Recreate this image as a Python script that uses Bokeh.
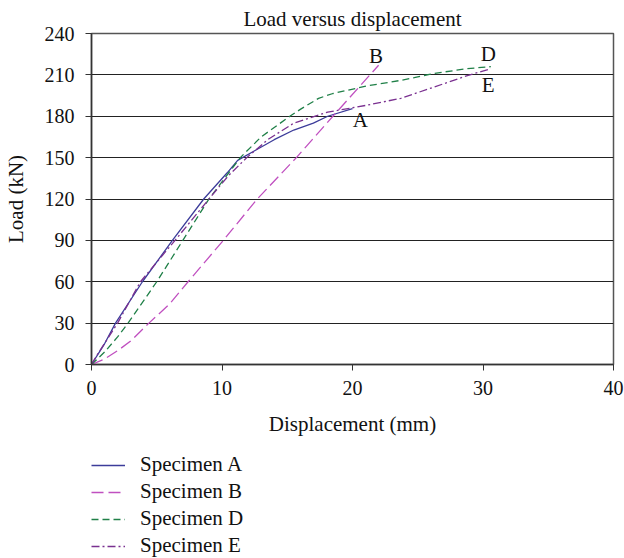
from bokeh.plotting import figure
from bokeh.layouts import column
from bokeh.models import Range1d, Legend, LegendItem, FixedTicker, ColumnDataSource
from bokeh.core.properties import value
from bokeh.embed import file_html
from bokeh.resources import INLINE

FONT = "'Liberation Serif', serif"
FS = "20px"
FS_L = "21px"

title_text = "Load versus displacement"
x_label = "Displacement (mm)"
y_label = "Load (kN)"
x_ticks = [0, 10, 20, 30, 40]
y_ticks = [0, 30, 60, 90, 120, 150, 180, 210, 240]

a_x = [0, 1, 1.84, 3.9, 6.2, 8.6, 10.4, 11.2, 12.5, 14, 15.5, 17, 18.1, 20]
a_y = [0, 15, 30, 60, 90, 120, 139, 148, 155, 163, 170, 175, 180, 185.6]

b_x = [0, 1, 2, 3, 4.4, 6, 7.4, 10.1, 12.7, 15.7, 18.5, 22]
b_y = [0, 4, 10, 17, 30, 44, 60, 90, 120, 150, 180, 217]

d_x = [0, 1, 2, 2.8, 5, 7, 9, 11.4, 13, 15.2, 16, 17.4, 18.5, 21.1, 23.7, 26.2, 28.8, 30.6]
d_y = [0, 9, 20, 30, 60, 90, 120, 150, 165, 180, 185, 193, 196.5, 202, 206, 211, 214.5, 216]

e_x = [0, 0.5, 2, 3.75, 6.4, 9, 10.5, 11.9, 13.5, 15.5, 18.1, 21.1, 23.7, 26.2, 28.8, 30.6]
e_y = [0, 8, 30, 60, 90, 120, 137, 150, 163, 175, 183, 188, 193, 201, 209.5, 214.5]

label_names = ["A", "B", "D", "E"]
label_x = [20.6, 21.8, 30.4, 30.4]
label_y = [177, 224, 225, 203]

legend_names = ["Specimen A", "Specimen B", "Specimen D", "Specimen E"]

styles = [dict(line_color="#3c3c9a", line_width=1.3),
          dict(line_color="#c050c0", line_width=1.3, line_dash="12 5"),
          dict(line_color="#208048", line_width=1.3, line_dash="7 4"),
          dict(line_color="#7a3090", line_width=1.3, line_dash="8 3 2 3")]

p = figure(frame_width=522, frame_height=331, output_backend="svg", toolbar_location=None,
           x_range=Range1d(0, 40), y_range=Range1d(0, 240),
           min_border_left=91, min_border_right=11, min_border_top=33, min_border_bottom=80)
p.title.text = title_text
p.title.text_font = FONT
p.title.text_font_size = FS_L
p.title.text_font_style = "normal"
p.title.align = "center"
p.title.text_color = "#111111"
p.title.standoff = 6

p.xgrid.grid_line_color = None
p.ygrid.ticker = FixedTicker(ticks=y_ticks)
p.ygrid.grid_line_color = "#222222"
p.ygrid.grid_line_width = 1
p.outline_line_color = "#555555"
p.outline_line_width = 1.5

for ax in (p.xaxis[0], p.yaxis[0]):
    ax.major_label_text_font = FONT
    ax.major_label_text_font_size = FS
    ax.major_label_text_color = "#111111"
    ax.axis_label_text_font = FONT
    ax.axis_label_text_font_size = FS_L
    ax.axis_label_text_font_style = "normal"
    ax.axis_label_text_color = "#111111"
    ax.axis_line_color = "#333333"
    ax.axis_line_width = 1.5
    ax.major_tick_line_color = "#333333"
    ax.major_tick_in = 0
    ax.major_tick_out = 6
    ax.minor_tick_line_color = None

p.xaxis.ticker = FixedTicker(ticks=x_ticks)
p.yaxis.ticker = FixedTicker(ticks=y_ticks)
p.xaxis.axis_label = x_label
p.yaxis.axis_label = y_label
p.xaxis.major_label_standoff = 10
p.xaxis.axis_label_standoff = 14
p.yaxis.major_label_standoff = 11
p.yaxis.axis_label_standoff = 14

series = [(a_x, a_y), (b_x, b_y), (d_x, d_y), (e_x, e_y)]
for (xs, ys), st in zip(series, styles):
    p.line(xs, ys, **st)

src = ColumnDataSource(data=dict(x=label_x, y=label_y, t=label_names))
p.text(x="x", y="y", text="t", source=src, text_font=value(FONT), text_font_size=FS_L,
       text_align="center", text_baseline="middle", text_color="#111111")

# legend panel below the chart
lg = figure(width=624, height=114, output_backend="svg", toolbar_location=None,
            x_range=Range1d(0, 1), y_range=Range1d(0, 1),
            x_axis_location=None, y_axis_location=None,
            min_border=0, outline_line_color=None)
lg.xgrid.grid_line_color = None
lg.ygrid.grid_line_color = None
items = []
for name, st in zip(legend_names, styles):
    r = lg.line([-2, -1], [-2, -1], **st)
    items.append(LegendItem(label=name, renderers=[r]))
legend = Legend(items=items, location=(0, 0), orientation="vertical",
                border_line_color=None, background_fill_alpha=0,
                label_text_font=FONT, label_text_font_size=FS_L, label_text_color="#111111",
                glyph_width=34, glyph_height=16, label_standoff=15, spacing=2,
                label_height=16, padding=0, margin=0)
lg.add_layout(legend, "center")

layout = column(p, lg, spacing=0)
open("out.html", "w").write(file_html(layout, INLINE))
